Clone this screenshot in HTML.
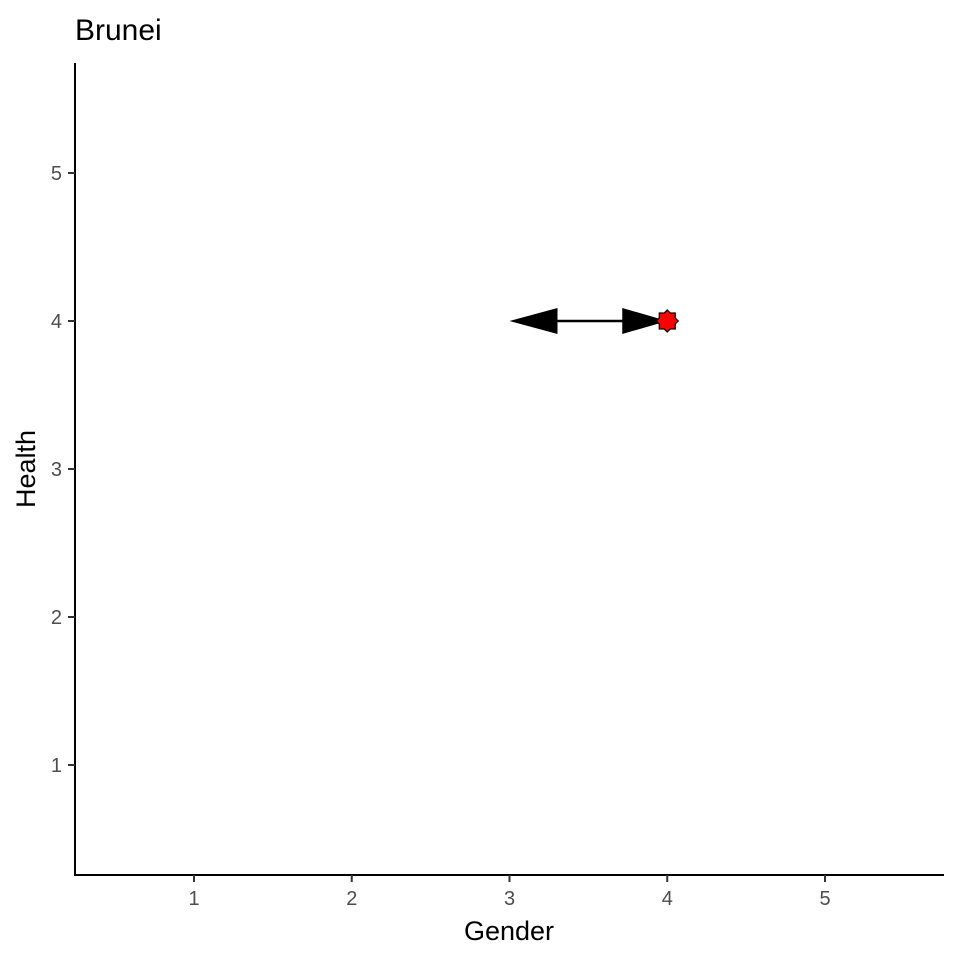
<!DOCTYPE html>
<html><head><meta charset="utf-8"><style>body{margin:0;background:#fff}svg{display:block;font-family:"Liberation Sans",Arial,sans-serif}</style></head>
<body>
<svg id="chart" width="960" height="960" xmlns="http://www.w3.org/2000/svg">
<text x="75" y="40" font-size="30">Brunei</text>
<line x1="75" y1="63" x2="75" y2="876" stroke="#000" stroke-width="2"/>
<line x1="74" y1="875" x2="944" y2="875" stroke="#000" stroke-width="2"/>
<g id="ticks"></g>
<g id="marks"></g>
<text x="509" y="940" font-size="27" text-anchor="middle">Gender</text>
<text transform="translate(35,469) rotate(-90)" font-size="27" text-anchor="middle">Health</text>
</svg>
<script>
const xTicks=[1,2,3,4,5];
const yTicks=[1,2,3,4,5];
const arrowStartX=[3];
const arrowEndX=[4];
const arrowY=[4];
const pointX=[4];
const pointY=[4];
const sx=v=>194+(v-1)*157.75;
const sy=v=>765-(v-1)*148;
const NS="http://www.w3.org/2000/svg";
function mk(t,a,p){const e=document.createElementNS(NS,t);for(const k in a)e.setAttribute(k,a[k]);p.appendChild(e);return e;}
const tg=document.getElementById('ticks');
xTicks.forEach(v=>{
 const l=mk('line',{x1:sx(v),x2:sx(v),y1:875,y2:882,stroke:'#333','stroke-width':2},tg);
 
 
 const t=mk('text',{x:sx(v),y:905,'font-size':20,fill:'#4d4d4d','text-anchor':'middle'},tg);t.textContent=v;
 
 
});
yTicks.forEach(v=>{
 const l=mk('line',{x1:68,x2:75,y1:sy(v),y2:sy(v),stroke:'#333','stroke-width':2},tg);
 
 
 const t=mk('text',{x:62,y:sy(v)+7,'font-size':20,fill:'#4d4d4d','text-anchor':'end'},tg);t.textContent=v;
 
 
});
const mg=document.getElementById('marks');
arrowStartX.forEach((s,i)=>{
 const x1=sx(s),x2=sx(arrowEndX[i]),y=sy(arrowY[i]);
 const l=mk('line',{x1:x1+40,x2:x2-40,y1:y,y2:y,stroke:'#000','stroke-width':2.5},mg);
 
 
 const h1=mk('polygon',{points:`${x1},${y} ${x1+48},${y-13} ${x1+48},${y+13}`,fill:'#000'},mg);
 
 
 const h2=mk('polygon',{points:`${x2},${y} ${x2-45},${y-13} ${x2-45},${y+13}`,fill:'#000'},mg);
 
 
});
pointX.forEach((v,i)=>{
 const x=sx(v),y=sy(pointY[i]);
 const g=mk('g',{},mg);
 
 
 mk('rect',{x:x-8,y:y-8,width:16,height:16,fill:'#f00',stroke:'#000','stroke-width':1.2},g);
 mk('polygon',{points:`${x},${y-11} ${x+11},${y} ${x},${y+11} ${x-11},${y}`,fill:'#f00',stroke:'#000','stroke-width':1.2},g);
 mk('rect',{x:x-7.3,y:y-7.3,width:14.6,height:14.6,fill:'#f00'},g);
});
</script>
</body></html>
